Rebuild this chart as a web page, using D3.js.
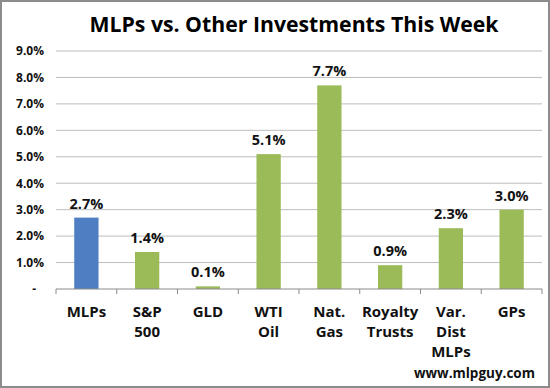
<!DOCTYPE html>
<html>
<head>
<meta charset="utf-8">
<script src="https://cdn.jsdelivr.net/npm/d3@7"></script>
<style>
  html, body { margin: 0; padding: 0; background: #fff; }
  svg { display: block; font-family: "Open Sans", "Liberation Sans", sans-serif; }
</style>
</head>
<body>
<svg id="the-svg" width="550" height="388"></svg>
<script>
// Chart data
const CATEGORIES = [['MLPs'], ['S&P', '500'], ['GLD'], ['WTI', 'Oil'], ['Nat.', 'Gas'],
  ['Royalty', 'Trusts'], ['Var.', 'Dist', 'MLPs'], ['GPs']];
const VALUES = [2.7, 1.4, 0.1, 5.1, 7.7, 0.9, 2.3, 3.0];
const Y_TICKS = [0, 1, 2, 3, 4, 5, 6, 7, 8, 9];
const TITLE = 'MLPs vs. Other Investments This Week';
const SOURCE = 'www.mlpguy.com';

const BLUE = '#4f7fc2';
const GREEN = '#9bbb59';

const svg = d3.select('svg');
const W = 550, H = 388;
const plot = { left: 56, right: 542, top: 51, bottom: 289 };

// outer frame
svg.append('rect')
  .attr('x', 1).attr('y', 1)
  .attr('width', W - 2).attr('height', H - 2)
  .attr('fill', '#fff')
  .attr('stroke', '#8c8c8c')
  .attr('stroke-width', 2);

const x = d3.scaleBand()
  .domain(d3.range(CATEGORIES.length))
  .range([plot.left, plot.right])
  .paddingInner(0.6)
  .paddingOuter(0.3);

const y = d3.scaleLinear()
  .domain([0, 9])
  .range([plot.bottom, plot.top]);

// gridlines
svg.append('g')
  .selectAll('line')
  .data(Y_TICKS.filter(d => d > 0))
  .enter()
  .append('line')
    .attr('x1', plot.left).attr('x2', plot.right)
    .attr('y1', d => y(d)).attr('y2', d => y(d))
    .attr('stroke', '#bdbdbd')
    .attr('stroke-width', 1);

// y axis labels
const yAxis = d3.axisLeft(y)
  .tickValues(Y_TICKS)
  .tickSize(0)
  .tickPadding(12)
  .tickFormat(d => d === 0 ? '-' : d.toFixed(1) + '%');

svg.append('g')
  .attr('transform', `translate(${plot.left},0)`)
  .call(yAxis)
  .call(g => g.select('.domain').remove())
  .call(g => g.selectAll('text')
    .attr('font-size', 12)
    .attr('font-weight', 'bold')
    .attr('font-family', '"Open Sans", sans-serif')
    .attr('fill', '#111')
    .attr('dx', d => d === 0 ? -8 : 0));

// bars
svg.append('g')
  .selectAll('rect')
  .data(VALUES)
  .enter()
  .append('rect')
    .attr('x', (d, i) => x(i))
    .attr('width', x.bandwidth())
    .attr('y', d => y(d))
    .attr('height', d => y(0) - y(d))
    .attr('fill', (d, i) => i === 0 ? BLUE : GREEN);

// value labels
svg.append('g')
  .selectAll('text')
  .data(VALUES)
  .enter()
  .append('text')
    .attr('x', (d, i) => x(i) + x.bandwidth() / 2)
    .attr('y', d => y(d) - 9)
    .attr('text-anchor', 'middle')
    .attr('font-size', 14.5)
    .attr('font-weight', 'bold')
    .attr('fill', '#111')
    .text(d => d.toFixed(1) + '%');

// x axis
const band = (plot.right - plot.left) / CATEGORIES.length;
const xTickPos = d3.range(CATEGORIES.length + 1).map(i => plot.left + i * band);
const xAxisG = svg.append('g');
xAxisG.append('line')
  .attr('x1', plot.left).attr('x2', plot.right)
  .attr('y1', plot.bottom).attr('y2', plot.bottom)
  .attr('stroke', '#8a8a8a');
xAxisG.selectAll('line.tick')
  .data(xTickPos)
  .enter()
  .append('line')
    .attr('class', 'tick')
    .attr('x1', d => d).attr('x2', d => d)
    .attr('y1', plot.bottom).attr('y2', plot.bottom + 5)
    .attr('stroke', '#8a8a8a');

const catLabels = xAxisG.selectAll('text')
  .data(CATEGORIES)
  .enter()
  .append('text')
    .attr('text-anchor', 'middle')
    .attr('font-size', 15)
    .attr('font-weight', 'bold')
    .attr('fill', '#111');
catLabels.each(function (lines, i) {
  d3.select(this).selectAll('tspan')
    .data(lines)
    .enter()
    .append('tspan')
      .attr('x', x(i) + x.bandwidth() / 2)
      .attr('y', (d, j) => 317 + j * 20)
      .text(d => d);
});

// title
svg.append('text')
  .attr('x', 294)
  .attr('y', 32)
  .attr('text-anchor', 'middle')
  .attr('font-size', 21)
  .attr('font-weight', 'bold')
  .attr('fill', '#000')
  .attr('textLength', 409)
  .attr('lengthAdjust', 'spacingAndGlyphs')
  .text(TITLE);

// source
svg.append('text')
  .attr('x', 535)
  .attr('y', 378)
  .attr('text-anchor', 'end')
  .attr('font-size', 13.5)
  .attr('font-weight', 'bold')
  .attr('fill', '#111')
  .text(SOURCE);
</script>
</body>
</html>
